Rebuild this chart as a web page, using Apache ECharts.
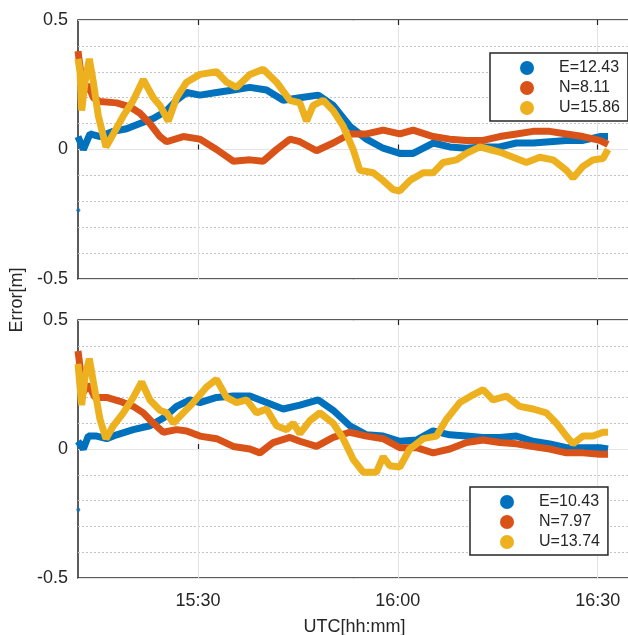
<!DOCTYPE html>
<html>
<head>
<meta charset="utf-8">
<script src="https://cdn.jsdelivr.net/npm/echarts@6/dist/echarts.min.js"></script>
<style>
  html, body { margin: 0; padding: 0; background: #fff; }
  #chart { width: 628px; height: 635px; }
</style>
</head>
<body>
<div id="chart"></div>
<script>
// times are minutes after 15:00 UTC
const xTicks = [30, 60, 90]
const xTickLabels = ['15:30', '16:00', '16:30']

const tTopE = [12.0, 12.8, 13.8, 15.3, 17.3, 19.3, 21.3, 23.3, 25.3, 26.8, 28.3, 30.3, 32.8, 35.3, 37.8, 40.3, 42.8, 45.3, 48.05, 50.3, 52.8, 55.3, 57.8, 60.3, 62.3, 65.3, 67.8, 70.3, 72.8, 75.3, 77.8, 80.3, 82.8, 85.3, 87.8, 90.3, 91.55]
const vTopE = [0.05, 0.0, 0.06, 0.05, 0.07, 0.08, 0.10, 0.12, 0.15, 0.19, 0.22, 0.21, 0.22, 0.23, 0.24, 0.23, 0.19, 0.20, 0.21, 0.17, 0.09, 0.04, 0.005, -0.015, -0.015, 0.025, 0.01, 0.005, 0.01, 0.01, 0.025, 0.025, 0.03, 0.035, 0.035, 0.05, 0.05]

const tTopN = [12.0, 12.3, 12.8, 13.55, 14.3, 15.3, 17.8, 19.8, 21.3, 22.8, 24.3, 25.3, 27.8, 30.3, 32.8, 35.3, 37.8, 39.8, 41.8, 43.8, 45.3, 47.8, 50.3, 52.8, 55.3, 57.8, 60.3, 62.3, 65.3, 67.8, 70.3, 72.8, 75.3, 77.8, 80.3, 82.8, 85.3, 87.8, 90.3, 91.55]
const vTopN = [0.38, 0.32, 0.22, 0.25, 0.20, 0.185, 0.18, 0.165, 0.14, 0.10, 0.05, 0.03, 0.05, 0.04, 0.0, -0.045, -0.04, -0.045, 0.0, 0.04, 0.03, -0.005, 0.025, 0.06, 0.06, 0.075, 0.06, 0.075, 0.05, 0.04, 0.035, 0.035, 0.05, 0.06, 0.07, 0.07, 0.06, 0.05, 0.035, 0.02]

const tTopU = [12.0, 12.3, 12.55, 13.05, 13.7, 14.3, 15.05, 16.2, 17.3, 18.8, 20.3, 21.8, 23.3, 24.3, 25.55, 26.8, 28.3, 30.3, 32.8, 34.3, 35.8, 37.8, 39.8, 41.8, 43.8, 45.3, 46.3, 47.3, 48.8, 50.3, 51.8, 53.3, 54.3, 56.3, 57.8, 59.3, 60.3, 61.8, 63.8, 65.3, 66.8, 68.8, 70.3, 72.3, 73.8, 75.3, 77.3, 79.3, 81.3, 83.3, 85.3, 86.3, 87.8, 89.3, 90.8, 91.55]
const vTopU = [0.35, 0.30, 0.15, 0.26, 0.35, 0.26, 0.13, 0.01, 0.06, 0.13, 0.19, 0.27, 0.20, 0.17, 0.11, 0.20, 0.26, 0.29, 0.30, 0.26, 0.24, 0.29, 0.31, 0.26, 0.19, 0.18, 0.11, 0.17, 0.19, 0.15, 0.09, 0.0, -0.08, -0.09, -0.12, -0.155, -0.16, -0.12, -0.09, -0.09, -0.05, -0.04, -0.015, 0.01, 0.0, -0.01, -0.03, -0.05, -0.03, -0.04, -0.08, -0.11, -0.065, -0.04, -0.035, 0.0]

const tBotE = [12.0, 12.3, 12.8, 13.55, 14.8, 16.3, 17.8, 20.3, 22.8, 24.8, 26.8, 28.8, 30.3, 32.8, 35.3, 37.8, 40.3, 42.8, 45.3, 48.05, 50.3, 52.8, 55.3, 57.8, 60.3, 62.8, 65.3, 67.8, 70.3, 72.8, 75.3, 77.8, 80.3, 82.8, 85.3, 87.8, 90.3, 91.55]
const vBotE = [0.03, 0.025, 0.0, 0.05, 0.05, 0.04, 0.055, 0.075, 0.09, 0.12, 0.165, 0.19, 0.18, 0.20, 0.205, 0.205, 0.18, 0.155, 0.17, 0.19, 0.15, 0.09, 0.055, 0.05, 0.03, 0.035, 0.07, 0.055, 0.05, 0.045, 0.045, 0.05, 0.03, 0.02, 0.005, 0.005, 0.005, 0.0]

const tBotN = [12.0, 12.3, 12.8, 13.55, 14.55, 16.3, 18.3, 20.3, 21.8, 23.3, 24.8, 26.8, 28.3, 30.3, 32.8, 35.3, 37.8, 39.3, 41.3, 43.8, 45.3, 47.8, 50.3, 52.8, 55.3, 57.8, 60.3, 62.8, 65.3, 67.8, 70.3, 72.8, 75.3, 77.8, 80.3, 82.8, 85.3, 87.8, 90.3, 91.55]
const vBotN = [0.38, 0.32, 0.22, 0.25, 0.20, 0.20, 0.185, 0.165, 0.14, 0.10, 0.065, 0.075, 0.07, 0.05, 0.04, 0.01, 0.0, -0.015, 0.025, 0.045, 0.03, 0.01, 0.045, 0.065, 0.05, 0.04, 0.005, 0.005, -0.015, 0.0, 0.025, 0.035, 0.025, 0.02, 0.01, 0.0, -0.015, -0.015, -0.02, -0.02]

const tBotU = [12.0, 12.55, 13.05, 13.7, 14.3, 15.3, 16.2, 17.3, 18.8, 20.3, 21.55, 22.8, 24.3, 25.3, 26.3, 27.8, 29.3, 31.3, 32.8, 34.3, 35.8, 37.3, 38.8, 40.3, 41.8, 43.3, 44.3, 45.3, 46.8, 48.3, 50.3, 51.8, 53.3, 54.8, 56.8, 57.8, 58.8, 60.3, 61.8, 63.8, 65.8, 67.3, 69.3, 71.3, 72.8, 74.3, 76.3, 78.3, 80.3, 82.3, 83.8, 85.3, 86.3, 87.8, 89.3, 90.8, 91.55]
const vBotU = [0.33, 0.17, 0.28, 0.35, 0.26, 0.115, 0.04, 0.09, 0.14, 0.20, 0.26, 0.19, 0.15, 0.14, 0.10, 0.14, 0.18, 0.24, 0.27, 0.20, 0.18, 0.19, 0.14, 0.155, 0.09, 0.075, 0.10, 0.06, 0.11, 0.14, 0.10, 0.04, -0.04, -0.09, -0.09, -0.03, -0.065, -0.07, 0.0, 0.04, 0.05, 0.115, 0.18, 0.21, 0.23, 0.19, 0.205, 0.165, 0.155, 0.14, 0.10, 0.05, 0.02, 0.05, 0.05, 0.065, 0.065]

// single stray E point at the start of each panel
const tOutlier = [12.05]
const vOutlier = [-0.235]

const topNames = ['E=12.43', 'N=8.11', 'U=15.86']
const botNames = ['E=10.43', 'N=7.97', 'U=13.74']
const colors = ['#0072BD', '#D95319', '#EDB120']

const pairs = (ts, vs) => ts.map((t, i) => [t, vs[i]])

const textColor = '#262626'
const font = 'Liberation Sans, Arial, sans-serif'

function xAxisFor(gridIndex, position, showLabels) {
  return {
    type: 'value',
    gridIndex: gridIndex,
    position: position,
    min: 12,
    max: 95,
    axisLine: { show: false },
    axisTick: {
      show: true,
      inside: true,
      length: 5,
      customValues: xTicks,
      lineStyle: { color: textColor, width: 1.2 },
    },
    axisLabel: {
      show: showLabels,
      color: textColor,
      fontSize: 18,
      fontFamily: font,
      margin: 14,
      customValues: xTicks,
      formatter: (v) => xTickLabels[xTicks.indexOf(v)],
    },
    splitLine: { show: position === 'bottom', lineStyle: { color: '#e3e3e3', width: 1 } },
    name: showLabels ? 'UTC[hh:mm]' : '',
    nameLocation: 'middle',
    nameGap: 40,
    nameTextStyle: { color: textColor, fontSize: 18, fontFamily: font },
  }
}

function yAxisFor(gridIndex) {
  return {
    type: 'value',
    gridIndex: gridIndex,
    min: -0.5,
    max: 0.5,
    interval: 0.5,
    axisLine: { show: false },
    axisTick: { show: false },
    axisLabel: {
      color: textColor,
      fontSize: 18,
      fontFamily: font,
      margin: 10,
      formatter: (v) => (v === 0 ? '0' : String(v)),
    },
    splitLine: { show: true, lineStyle: { color: '#e3e3e3', width: 1 } },
    minorTick: { show: false, splitNumber: 5 },
    minorSplitLine: { show: true, lineStyle: { color: '#c4c4c4', width: 1, type: [2, 2] } },
  }
}

function lineSeries(name, ts, vs, color, idx) {
  return {
    name: name,
    type: 'line',
    xAxisIndex: idx * 2,
    yAxisIndex: idx,
    data: pairs(ts, vs),
    showSymbol: false,
    symbol: 'circle',
    lineStyle: { color: color, width: 7 },
    itemStyle: { color: color },
  }
}

function legendFor(names, left, top) {
  return {
    data: names,
    orient: 'vertical',
    left: left,
    top: top,
    icon: 'circle',
    itemWidth: 14,
    itemHeight: 14,
    itemGap: 4,
    padding: [7, 8, 5, 30],
    backgroundColor: '#fff',
    borderColor: textColor,
    borderWidth: 1.5,
    borderRadius: 0,
    selectedMode: false,
    textStyle: { color: textColor, fontSize: 16, lineHeight: 16, fontFamily: font, padding: [0, 0, 0, 20] },
  }
}

const chart = echarts.init(document.getElementById('chart'))
chart.setOption({
  backgroundColor: '#fff',
  animation: false,
  grid: [
    { left: 78, top: 20, width: 553, height: 259, show: true, borderColor: textColor, borderWidth: 1.5, backgroundColor: 'transparent', outerBoundsMode: 'none' },
    { left: 78, top: 320, width: 553, height: 258, show: true, borderColor: textColor, borderWidth: 1.5, backgroundColor: 'transparent', outerBoundsMode: 'none' },
  ],
  xAxis: [
    xAxisFor(0, 'bottom', false),
    xAxisFor(0, 'top', false),
    xAxisFor(1, 'bottom', true),
    xAxisFor(1, 'top', false),
  ],
  yAxis: [yAxisFor(0), yAxisFor(1)],
  legend: [legendFor(topNames, 490, 53), legendFor(botNames, 470, 487)],
  graphic: [
    {
      type: 'text',
      x: 17,
      y: 300,
      rotation: Math.PI / 2,
      style: { text: 'Error[m]', fill: textColor, fontSize: 18, fontFamily: font, textAlign: 'center', textVerticalAlign: 'middle' },
    },
  ],
  series: [
    lineSeries(topNames[0], tTopE, vTopE, colors[0], 0),
    lineSeries(topNames[1], tTopN, vTopN, colors[1], 0),
    lineSeries(topNames[2], tTopU, vTopU, colors[2], 0),
    lineSeries(botNames[0], tBotE, vBotE, colors[0], 1),
    lineSeries(botNames[1], tBotN, vBotN, colors[1], 1),
    lineSeries(botNames[2], tBotU, vBotU, colors[2], 1),
    { type: 'scatter', xAxisIndex: 0, yAxisIndex: 0, data: pairs(tOutlier, vOutlier), symbolSize: 4, itemStyle: { color: colors[0] } },
    { type: 'scatter', xAxisIndex: 2, yAxisIndex: 1, data: pairs(tOutlier, vOutlier), symbolSize: 4, itemStyle: { color: colors[0] } },
  ],
})
</script>
</body>
</html>
